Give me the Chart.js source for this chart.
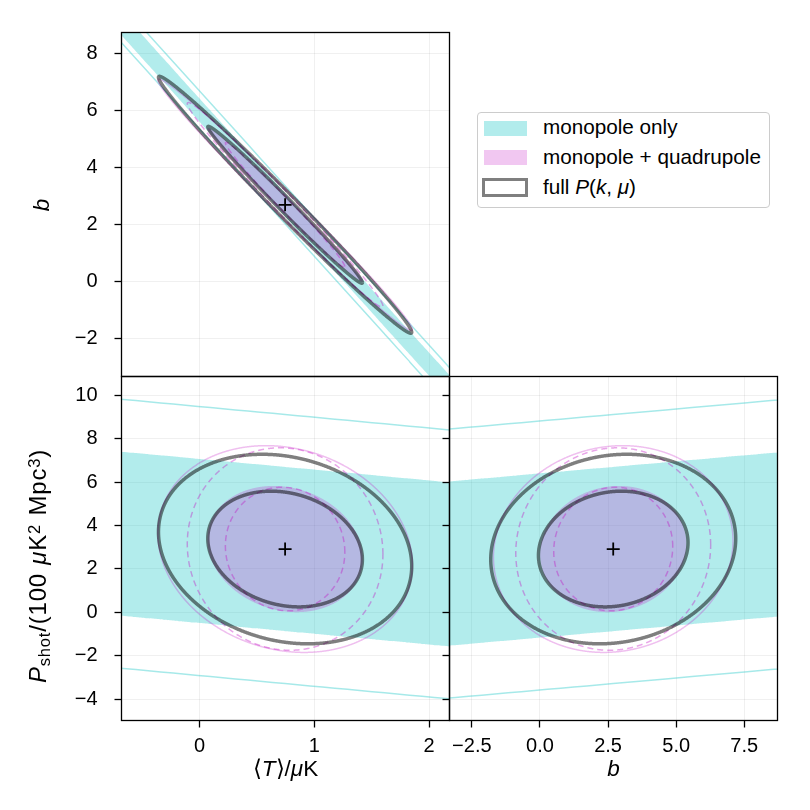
<!DOCTYPE html>
<html>
<head>
<meta charset="utf-8">
<title>Fisher forecast corner plot</title>
<script src="https://cdn.jsdelivr.net/npm/chart.js@4.4.1/dist/chart.umd.min.js"></script>
<style>
  html, body { margin:0; padding:0; background:#fff; }
  #wrap { position:relative; width:810px; height:810px; overflow:hidden; font-family:"Liberation Sans", Arial, Helvetica, sans-serif; color:#000; }
  #wrap canvas { position:absolute; left:0; top:0; }
  .ax { position:absolute; font-size:22.5px; line-height:1; white-space:nowrap; transform:translate(-50%,-50%); z-index:5; }
  .rot { transform:translate(-50%,-50%) rotate(-90deg); }
  .sub { font-size:0.69em; vertical-align:-0.22em; }
  .sup { font-size:0.69em; vertical-align:0.4em; }
  .sp { display:inline-block; width:0.35em; }
  #legend { position:absolute; left:476.5px; top:111.5px; width:293px; height:96px; border:1px solid #cccccc; border-radius:4px; background:#fff; z-index:5; box-sizing:border-box; }
  .patch { position:absolute; box-sizing:border-box; z-index:6; }
  .ltext { position:absolute; font-size:20.7px; line-height:24px; white-space:nowrap; z-index:6; }
</style>
</head>
<body>
<div id="wrap">
  <canvas id="cTL" width="810" height="810"></canvas>
  <canvas id="cBL" width="810" height="810"></canvas>
  <canvas id="cBR" width="810" height="810"></canvas>

  <div class="ax rot" style="left:42px;top:205px;"><i>b</i></div>
  <div class="ax rot" style="left:40px;top:566px;font-size:24px;letter-spacing:0.8px;"><i>P</i><span class="sub">shot</span>/(100<span class="sp"></span><i>μ</i>K<span class="sup">2</span><span class="sp"></span>Mpc<span class="sup">3</span>)</div>
  <div class="ax" style="left:285.5px;top:769px;">⟨<i>T</i>⟩/<i>μ</i>K</div>
  <div class="ax" style="left:613.5px;top:769px;"><i>b</i></div>

  <div id="legend"></div>
  <div class="patch" style="left:483.5px;top:120.5px;width:43px;height:15px;background:rgba(0,191,191,0.3);"></div>
  <div class="patch" style="left:483.5px;top:150px;width:43px;height:15px;background:rgba(191,0,191,0.22);"></div>
  <div class="patch" style="left:481.8px;top:178px;width:46.5px;height:18.5px;border:3.5px solid rgba(0,0,0,0.5);background:#fff;"></div>
  <div class="ltext" style="left:543px;top:115px;">monopole only</div>
  <div class="ltext" style="left:543px;top:144.5px;">monopole + quadrupole</div>
  <div class="ltext" style="left:543px;top:174.5px;">full <i>P</i>(<i>k</i>, <i>μ</i>)</div>
</div>

<script>
// ---------------- data ----------------
// parameter order: [<T>/muK, b, Pshot/(100 muK^2 Mpc^3)]
const paramNames = ['T', 'b', 'Pshot'];
const fiducial = [0.745, 2.69, 2.92];

// marginal 1-sigma errors [T, b, Pshot] and correlations [T-b, T-Pshot, b-Pshot]
const monoSigma = [20, 89, 10.21];
const monoCorr = [-0.99999544, -0.9696, 0.9696];
const quadSigma = [0.446, 1.77, 1.92];
const quadCorr = [-0.992, -0.15, 0.08];
const quadAltSigma = [0.343, 1.44, 1.88];
const quadAltCorr = [-0.99, -0.05, 0.04];
const fullSigma = [0.444, 1.81, 1.76];
const fullCorr = [-0.9925, -0.18, 0.11];

// delta chi^2 for the 68% and 95% 2-parameter contours
const levels = [2.30, 6.17];

// axis ranges and tick labels
const tRange = [-0.68, 2.177];
const bRange = [-3.32, 8.72];
const pRange = [-4.99, 10.88];
const ranges = [tRange, bRange, pRange];
const tTicks = [0, 1, 2];
const bTicksY = [-2, 0, 2, 4, 6, 8];
const bTicksX = [-2.5, 0, 2.5, 5, 7.5];
const pTicks = [-4, -2, 0, 2, 4, 6, 8, 10];

// ---------------- styles ----------------
const FONT = '"Liberation Sans", Arial, Helvetica, sans-serif';
const CYAN_FILL = 'rgba(0,191,191,0.3)';
const CYAN_LINE = 'rgba(0,191,191,0.35)';
const PINK_FILL = 'rgba(191,0,191,0.22)';
const PINK_LINE = 'rgba(191,0,191,0.25)';
const PINK_DASH = 'rgba(191,0,191,0.35)';
const GREY_LINE = 'rgba(0,0,0,0.5)';

function corrOf(corr, i, j) { return corr[i + j - 1]; }

function ellipsePoints(i, j, sigma, corr, level, n) {
  const rho = corrOf(corr, i, j);
  const s = Math.sqrt(Math.max(0, 1 - rho * rho));
  const r = Math.sqrt(level);
  const sx = sigma[i], sy = sigma[j];
  const pts = [];
  for (let k = 0; k <= n; k++) {
    const t = 2 * Math.PI * k / n;
    const c = Math.cos(t), sn = Math.sin(t);
    pts.push({ x: fiducial[i] + r * sx * c, y: fiducial[j] + r * sy * (rho * c + s * sn) });
  }
  return pts;
}

function ellipseDS(i, j, sigma, corr, level, style) {
  return Object.assign({
    data: ellipsePoints(i, j, sigma, corr, level, 1440),
    showLine: true, pointRadius: 0, pointHoverRadius: 0,
    tension: 0.000001, capBezierPoints: false,
    borderJoinStyle: 'round',
    fill: false, clip: 0, borderWidth: 1.5, borderColor: 'rgba(0,0,0,0)'
  }, style);
}

function panelDatasets(i, j) {
  return [
    { data: [{ x: fiducial[i], y: fiducial[j] }], showLine: false, pointStyle: 'cross',
      pointRadius: 6.5, borderColor: '#000', borderWidth: 1.8, backgroundColor: '#000', order: 0, clip: 0 },
    ellipseDS(i, j, fullSigma, fullCorr, levels[0], { borderColor: GREY_LINE, borderWidth: 3.5, order: 1 }),
    ellipseDS(i, j, fullSigma, fullCorr, levels[1], { borderColor: GREY_LINE, borderWidth: 3.5, order: 1 }),
    ellipseDS(i, j, quadAltSigma, quadAltCorr, levels[0], { borderColor: PINK_DASH, borderWidth: 1.5, borderDash: [6, 4], order: 2 }),
    ellipseDS(i, j, quadAltSigma, quadAltCorr, levels[1], { borderColor: PINK_DASH, borderWidth: 1.5, borderDash: [6, 4], order: 2 }),
    ellipseDS(i, j, quadSigma, quadCorr, levels[1], { borderColor: PINK_LINE, borderWidth: 1.5, order: 3 }),
    ellipseDS(i, j, quadSigma, quadCorr, levels[0], { borderWidth: 0, fill: 'shape', backgroundColor: PINK_FILL, order: 4 }),
    ellipseDS(i, j, monoSigma, monoCorr, levels[1], { borderColor: CYAN_LINE, borderWidth: 1.5, order: 5 }),
    ellipseDS(i, j, monoSigma, monoCorr, levels[0], { borderWidth: 0, fill: 'shape', backgroundColor: CYAN_FILL, order: 6 })
  ];
}

function fmtTick(v, digits) {
  const s = Math.abs(v).toFixed(digits);
  return (v < 0 ? '\u2212' : '') + s;
}

function axisOpts(axis, range, ticks, showLabels, digits, tickMarks, size) {
  return {
    type: 'linear', position: axis === 'x' ? 'bottom' : 'left',
    min: range[0], max: range[1],
    afterBuildTicks: s => { s.ticks = ticks.map(v => ({ value: v })); },
    afterFit: s => {
      if (axis === 'x') s.height = size; else s.width = size;
      s.paddingLeft = 0; s.paddingRight = 0; s.paddingTop = 0; s.paddingBottom = 0;
    },
    grid: { color: 'rgba(0,0,0,0.06)', lineWidth: 1, drawTicks: tickMarks, tickLength: 7, tickColor: '#000', tickWidth: 1.3 },
    border: { display: false },
    ticks: { display: showLabels, color: '#000', font: { family: FONT, size: 20 },
      padding: axis === 'x' ? 7 : 17, maxRotation: 0, minRotation: 0, autoSkip: false,
      callback: v => fmtTick(v, digits) }
  };
}

const framePlugin = {
  id: 'frame',
  afterDatasetsDraw(chart) {
    const { ctx, chartArea: a } = chart;
    ctx.save();
    ctx.strokeStyle = '#000';
    ctx.lineWidth = 1.3;
    ctx.strokeRect(a.left, a.top, a.right - a.left, a.bottom - a.top);
    ctx.restore();
  }
};

function makeChart(id, i, j, area, o) {
  return new Chart(document.getElementById(id), {
    type: 'scatter',
    data: { datasets: panelDatasets(i, j) },
    options: {
      responsive: false, animation: false, events: [],
      layout: { padding: { left: area.l - o.yW, right: 810 - area.r, top: area.t, bottom: 810 - area.b - o.xH } },
      plugins: { legend: { display: false }, tooltip: { enabled: false } },
      scales: {
        x: axisOpts('x', ranges[i], o.xTicks, o.xLabels, o.xDigits, o.xMarks, o.xH),
        y: axisOpts('y', ranges[j], o.yTicks, o.yLabels, 0, o.yMarks, o.yW)
      }
    },
    plugins: [framePlugin]
  });
}

makeChart('cTL', 0, 1, { l: 121.5, r: 449.5, t: 32.5, b: 376.5 },
  { xTicks: tTicks, yTicks: bTicksY, xLabels: false, yLabels: true, xDigits: 0, xMarks: false, yMarks: true, xH: 0, yW: 60 });
makeChart('cBL', 0, 2, { l: 121.5, r: 449.5, t: 376.5, b: 720.5 },
  { xTicks: tTicks, yTicks: pTicks, xLabels: true, yLabels: true, xDigits: 0, xMarks: true, yMarks: true, xH: 50, yW: 60 });
makeChart('cBR', 1, 2, { l: 449.5, r: 777.5, t: 376.5, b: 720.5 },
  { xTicks: bTicksX, yTicks: pTicks, xLabels: true, yLabels: false, xDigits: 1, xMarks: true, yMarks: true, xH: 50, yW: 20 });
</script>
</body>
</html>
